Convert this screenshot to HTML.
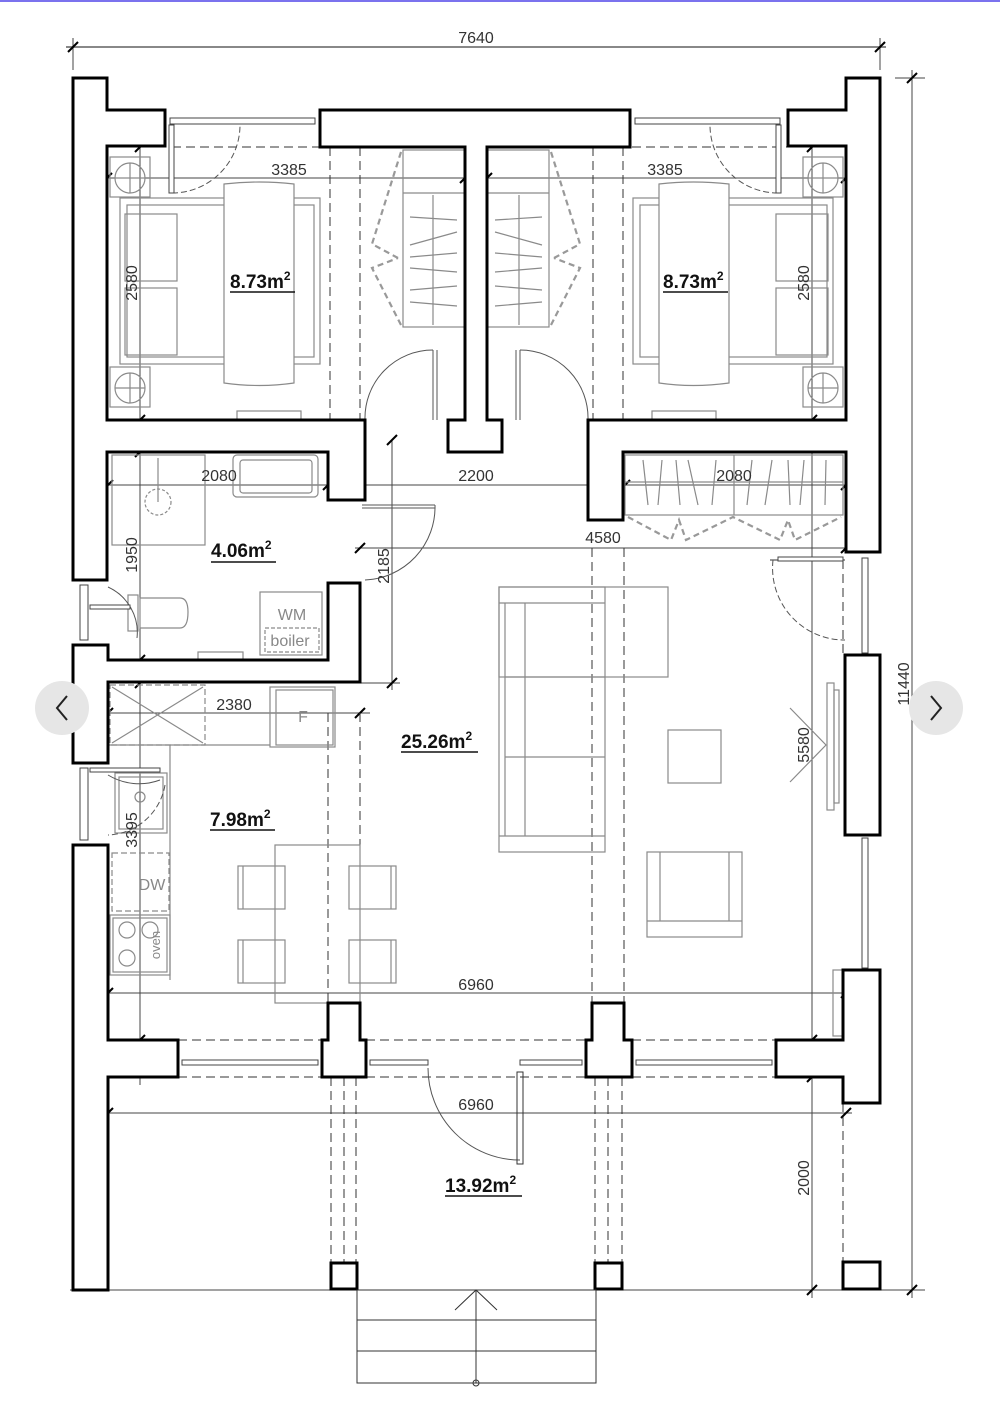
<!DOCTYPE html>
<html><head><meta charset="utf-8">
<style>
html,body{margin:0;padding:0;background:#fff;}
svg{display:block;}
text{font-family:"Liberation Sans",sans-serif;}
</style></head><body>
<svg width="1000" height="1412" viewBox="0 0 1000 1412" xmlns="http://www.w3.org/2000/svg">
<rect x="0" y="0" width="1000" height="1412" fill="#fff"/>
<rect x="0" y="0" width="1000" height="2" fill="#7b72ee"/>

<g stroke="#444" stroke-width="1" fill="none">
<line x1="66" y1="47" x2="886" y2="47" stroke="#888" stroke-width="2"/>
<line x1="73" y1="38" x2="73" y2="70"/><line x1="880" y1="38" x2="880" y2="70"/>
<line x1="912" y1="70" x2="912" y2="1298"/>
<line x1="895" y1="78" x2="925" y2="78"/><line x1="880" y1="1290" x2="925" y2="1290"/>
<line x1="100" y1="178" x2="470" y2="178"/>
<line x1="482" y1="178" x2="852" y2="178"/>
<line x1="140" y1="140" x2="140" y2="1085"/>
<line x1="812" y1="140" x2="812" y2="1298"/>
<line x1="100" y1="485" x2="852" y2="485"/>
<line x1="355" y1="548" x2="852" y2="548"/>
<line x1="392" y1="440" x2="392" y2="690"/>
<line x1="355" y1="683" x2="400" y2="683"/>
<line x1="100" y1="713" x2="370" y2="713"/>
<line x1="100" y1="993" x2="852" y2="993"/>
<line x1="100" y1="1113" x2="852" y2="1113"/>
<line x1="70" y1="1290" x2="880" y2="1290"/>
</g>
<g stroke="#000" stroke-width="2">
<line x1="68" y1="52" x2="78" y2="42"/><line x1="875" y1="52" x2="885" y2="42"/>
<line x1="907" y1="83" x2="917" y2="73"/><line x1="907" y1="1295" x2="917" y2="1285"/>
<line x1="102" y1="183" x2="112" y2="173"/><line x1="460" y1="183" x2="470" y2="173"/>
<line x1="482" y1="183" x2="492" y2="173"/><line x1="841" y1="183" x2="851" y2="173"/>
<line x1="135" y1="152" x2="145" y2="142"/><line x1="135" y1="425" x2="145" y2="415"/>
<line x1="807" y1="152" x2="817" y2="142"/><line x1="807" y1="425" x2="817" y2="415"/>
<line x1="103" y1="490" x2="113" y2="480"/><line x1="323" y1="490" x2="333" y2="480"/>
<line x1="355" y1="490" x2="365" y2="480"/><line x1="588" y1="490" x2="598" y2="480"/>
<line x1="620" y1="490" x2="630" y2="480"/><line x1="841" y1="490" x2="851" y2="480"/>
<line x1="135" y1="457" x2="145" y2="447"/><line x1="135" y1="665" x2="145" y2="655"/>
<line x1="355" y1="553" x2="365" y2="543"/><line x1="841" y1="553" x2="851" y2="543"/>
<line x1="387" y1="445" x2="397" y2="435"/><line x1="387" y1="688" x2="397" y2="678"/>
<line x1="103" y1="718" x2="113" y2="708"/><line x1="355" y1="718" x2="365" y2="708"/>
<line x1="135" y1="688" x2="145" y2="678"/><line x1="135" y1="1045" x2="145" y2="1035"/>
<line x1="103" y1="998" x2="113" y2="988"/><line x1="841" y1="998" x2="851" y2="988"/>
<line x1="103" y1="1118" x2="113" y2="1108"/><line x1="841" y1="1118" x2="851" y2="1108"/>
<line x1="807" y1="1045" x2="817" y2="1035"/><line x1="807" y1="1082" x2="817" y2="1072"/>
<line x1="807" y1="1295" x2="817" y2="1285"/>
</g>

<g stroke="#333" stroke-width="1" stroke-dasharray="9,5" fill="none">
<line x1="330" y1="147" x2="330" y2="420"/><line x1="360" y1="147" x2="360" y2="420"/>
<line x1="593" y1="147" x2="593" y2="420"/><line x1="623" y1="147" x2="623" y2="420"/>
<line x1="172" y1="147" x2="320" y2="147"/><line x1="632" y1="147" x2="788" y2="147"/>
<line x1="328" y1="713" x2="328" y2="1003"/><line x1="360" y1="713" x2="360" y2="1003"/>
<line x1="592" y1="548" x2="592" y2="1003"/><line x1="624" y1="548" x2="624" y2="1003"/>
<line x1="178" y1="1040" x2="322" y2="1040"/><line x1="366" y1="1040" x2="586" y2="1040"/><line x1="632" y1="1040" x2="776" y2="1040"/>
<line x1="178" y1="1077" x2="322" y2="1077"/><line x1="366" y1="1077" x2="586" y2="1077"/><line x1="632" y1="1077" x2="776" y2="1077"/>
<line x1="331" y1="1077" x2="331" y2="1262"/><line x1="344" y1="1077" x2="344" y2="1262"/><line x1="356" y1="1077" x2="356" y2="1262"/>
<line x1="595" y1="1077" x2="595" y2="1262"/><line x1="608" y1="1077" x2="608" y2="1262"/><line x1="622" y1="1077" x2="622" y2="1262"/>
<line x1="843" y1="1103" x2="843" y2="1262"/>
<line x1="770" y1="560" x2="845" y2="560"/>
<line x1="843" y1="560" x2="843" y2="655"/>
</g>

<g stroke="#8a8a8a" stroke-width="1.2" fill="none">
<rect x="110" y="157" width="40" height="40"/><circle cx="130" cy="178" r="15"/><line x1="115" y1="178" x2="145" y2="178"/><line x1="130" y1="163" x2="130" y2="193"/>
<rect x="110" y="367" width="40" height="40"/><circle cx="130" cy="388" r="15"/><line x1="115" y1="388" x2="145" y2="388"/><line x1="130" y1="373" x2="130" y2="403"/>
<rect x="120" y="198" width="200" height="166"/><rect x="127" y="205" width="187" height="152"/>
<rect x="125" y="214" width="52" height="67"/><rect x="125" y="288" width="52" height="67"/>
<path d="M224 184 Q260 180 294 184 L294 383 Q260 388 224 383 Z" fill="#fff"/>
<rect x="237" y="411" width="64" height="9"/>
<rect x="803" y="157" width="40" height="40"/><circle cx="823" cy="178" r="15"/><line x1="808" y1="178" x2="838" y2="178"/><line x1="823" y1="163" x2="823" y2="193"/>
<rect x="803" y="367" width="40" height="40"/><circle cx="823" cy="388" r="15"/><line x1="808" y1="388" x2="838" y2="388"/><line x1="823" y1="373" x2="823" y2="403"/>
<rect x="633" y="198" width="200" height="166"/><rect x="640" y="205" width="187" height="152"/>
<rect x="776" y="214" width="52" height="67"/><rect x="776" y="288" width="52" height="67"/>
<path d="M659 184 Q693 180 729 184 L729 383 Q693 388 659 383 Z" fill="#fff"/>
<rect x="652" y="411" width="64" height="9"/>
<rect x="403" y="150" width="62" height="177"/><line x1="403" y1="193" x2="465" y2="193"/><line x1="433" y1="195" x2="433" y2="325"/>
<path d="M410 217 L457 220 M410 245 L457 232 M410 257 L457 253 M410 268 L457 272 M410 290 L457 286 M410 302 L457 306"/>
<rect x="487" y="150" width="62" height="177"/><line x1="487" y1="193" x2="549" y2="193"/><line x1="519" y1="195" x2="519" y2="325"/>
<path d="M495 220 L542 217 M495 232 L542 245 M495 253 L542 257 M495 272 L542 268 M495 286 L542 290 M495 306 L542 302"/>
<rect x="112" y="455" width="93" height="90"/><circle cx="158" cy="502" r="13" stroke-dasharray="3,2"/><line x1="158" y1="458" x2="158" y2="502"/>
<rect x="233" y="455" width="85" height="42" rx="4"/><rect x="240" y="460" width="72" height="33" rx="3"/>
<path d="M140 598 L180 598 Q188 598 188 612 Q188 628 180 628 L140 628 Z"/>
<rect x="128" y="595" width="10" height="36"/>
<rect x="260" y="592" width="62" height="63"/><rect x="265" y="628" width="54" height="24" stroke-dasharray="4,2"/>
<rect x="198" y="652" width="45" height="8"/>
<rect x="110" y="685" width="95" height="60" stroke-dasharray="6,3"/><path d="M112 687 L203 743 M203 687 L112 743"/>
<line x1="108" y1="745" x2="270" y2="745"/>
<line x1="170" y1="745" x2="170" y2="980"/>
<rect x="270" y="687" width="65" height="60"/><rect x="276" y="690" width="57" height="55"/>
<rect x="115" y="773" width="52" height="60"/><rect x="119" y="777" width="44" height="52"/><circle cx="140" cy="797" r="5"/>
<rect x="112" y="853" width="57" height="58" stroke-dasharray="6,3"/>
<rect x="110" y="915" width="60" height="60"/><rect x="113" y="918" width="54" height="54"/>
<circle cx="127" cy="930" r="8"/><circle cx="127" cy="958" r="8"/><circle cx="150" cy="930" r="8"/>
<rect x="275" y="845" width="85" height="158"/>
<rect x="238" y="866" width="47" height="43"/><line x1="243" y1="866" x2="243" y2="909"/>
<rect x="238" y="940" width="47" height="43"/><line x1="243" y1="940" x2="243" y2="983"/>
<rect x="349" y="866" width="47" height="43"/><line x1="391" y1="866" x2="391" y2="909"/>
<rect x="349" y="940" width="47" height="43"/><line x1="391" y1="940" x2="391" y2="983"/>
<rect x="499" y="587" width="169" height="90"/>
<rect x="499" y="587" width="106" height="265"/>
<line x1="499" y1="603" x2="605" y2="603"/><line x1="505" y1="603" x2="505" y2="836"/><line x1="525" y1="603" x2="525" y2="836"/>
<line x1="505" y1="677" x2="605" y2="677"/><line x1="505" y1="757" x2="605" y2="757"/><line x1="499" y1="836" x2="605" y2="836"/>
<rect x="668" y="730" width="53" height="53"/>
<rect x="647" y="852" width="95" height="85"/><line x1="660" y1="852" x2="660" y2="921"/><line x1="729" y1="852" x2="729" y2="921"/><line x1="647" y1="921" x2="742" y2="921"/>
<rect x="827" y="683" width="7" height="127"/><rect x="834" y="690" width="5" height="113"/>
<path d="M790 708 L826 745 L790 782"/>
<rect x="833" y="970" width="10" height="66"/>
<rect x="625" y="455" width="218" height="60"/><line x1="625" y1="482" x2="843" y2="482"/><line x1="734" y1="455" x2="734" y2="515"/>
<path d="M643 460 L648 505 M662 460 L658 505 M676 460 L680 505 M688 460 L698 505 M716 460 L712 505 M752 460 L747 505 M772 460 L765 505 M788 460 L790 505 M804 460 L800 505 M826 460 L825 505"/>
</g>
<g stroke="#999" stroke-width="2.2" fill="none" stroke-dasharray="6,4">
<path d="M401 152 L372 244 L398 258"/><path d="M401 325 L372 268 L398 258"/>
<path d="M551 152 L580 244 L554 258"/><path d="M551 325 L580 268 L554 258"/>
<path d="M628 517 L671 540 L679 520 L686 540 L733 517 L780 540 L788 520 L795 540 L841 517"/>
</g>

<g stroke="#555" stroke-width="1" fill="none">
<path d="M172 193 A68 68 0 0 0 240 125" stroke-dasharray="6,3"/>
<path d="M778 193 A68 68 0 0 1 710 125" stroke-dasharray="6,3"/>
<path d="M365 420 A68 68 0 0 1 433 350"/>
<path d="M588 420 A68 68 0 0 0 520 350"/>
<line x1="433" y1="350" x2="433" y2="420"/><line x1="437" y1="350" x2="437" y2="420"/>
<line x1="516" y1="350" x2="516" y2="420"/><line x1="520" y1="350" x2="520" y2="420"/>
<path d="M435 505 A73 73 0 0 1 365 580"/>
<line x1="362" y1="505" x2="435" y2="505"/><line x1="362" y1="508" x2="435" y2="508"/>
<path d="M773 560 A72 72 0 0 0 845 640" stroke-dasharray="6,3"/>
<path d="M428 1068 A92 92 0 0 0 520 1160"/>
<rect x="517" y="1072" width="6" height="92" stroke="#333"/>
<path d="M108 587 A50 50 0 0 1 137 638"/>
<path d="M108 775 A60 60 0 0 0 160 780"/>
<path d="M165 785 A60 60 0 0 1 108 835" stroke-dasharray="6,3"/>
</g>
<g stroke="#444" stroke-width="1" fill="#fff">
<rect x="169" y="125" width="5" height="68"/><rect x="776" y="125" width="5" height="68"/>
<rect x="170" y="118" width="145" height="6"/><rect x="635" y="118" width="145" height="6"/>
<rect x="80" y="585" width="8" height="55"/><rect x="90" y="605" width="40" height="4"/>
<rect x="80" y="768" width="8" height="72"/><rect x="90" y="768" width="70" height="4"/>
<rect x="182" y="1060" width="136" height="5"/><rect x="370" y="1060" width="58" height="5"/><rect x="520" y="1060" width="62" height="5"/><rect x="636" y="1060" width="136" height="5"/>
<rect x="862" y="558" width="6" height="95"/><rect x="778" y="557" width="65" height="4"/>
<rect x="862" y="838" width="6" height="130"/>
</g>

<g stroke="#000" stroke-width="3" fill="#fff" stroke-linejoin="miter">
<polygon points="73,78 107,78 107,110 165,110 165,146 107,146 107,420 365,420 365,500 328,500 328,452 107,452 107,580 73,580"/>
<polygon points="880,78 846,78 846,110 788,110 788,146 846,146 846,420 588,420 588,520 623,520 623,452 846,452 846,552 880,552"/>
<polygon points="320,110 630,110 630,147 487,147 487,420 502,420 502,452 448,452 448,420 465,420 465,147 320,147"/>
<polygon points="73,645 108,645 108,660 328,660 328,583 360,583 360,682 108,682 108,763 73,763"/>
<polygon points="73,845 108,845 108,1040 178,1040 178,1077 108,1077 108,1290 73,1290"/>
<polygon points="328,1003 360,1003 360,1040 366,1040 366,1077 322,1077 322,1040 328,1040"/>
<polygon points="592,1003 624,1003 624,1040 632,1040 632,1077 586,1077 586,1040 592,1040"/>
<polygon points="843,970 880,970 880,1103 843,1103 843,1077 776,1077 776,1040 843,1040"/>
<polygon points="845,655 880,655 880,835 845,835"/>
<rect x="331" y="1263" width="26" height="26"/>
<rect x="595" y="1263" width="27" height="26"/>
<rect x="843" y="1262" width="37" height="27"/>
</g>

<g stroke="#333" stroke-width="1" fill="none">
<rect x="357" y="1290" width="239" height="93"/>
<line x1="357" y1="1320" x2="596" y2="1320"/><line x1="357" y1="1351" x2="596" y2="1351"/>
<line x1="476" y1="1383" x2="476" y2="1290"/>
<path d="M455 1310 L476 1290 L497 1310"/>
<circle cx="476" cy="1383" r="3"/>
</g>

<g font-size="16" fill="#333" text-anchor="middle">
<text x="476" y="43">7640</text>
<text x="289" y="175">3385</text>
<text x="665" y="175">3385</text>
<text x="219" y="481">2080</text>
<text x="476" y="481">2200</text>
<text x="734" y="481">2080</text>
<text x="603" y="543">4580</text>
<text x="234" y="710">2380</text>
<text x="476" y="990">6960</text>
<text x="476" y="1110">6960</text>
<text transform="translate(137,283) rotate(-90)">2580</text>
<text transform="translate(809,283) rotate(-90)">2580</text>
<text transform="translate(137,555) rotate(-90)">1950</text>
<text transform="translate(389,566) rotate(-90)">2185</text>
<text transform="translate(137,830) rotate(-90)">3395</text>
<text transform="translate(809,745) rotate(-90)">5580</text>
<text transform="translate(809,1178) rotate(-90)">2000</text>
<text transform="translate(909,684) rotate(-90)">11440</text>
</g>
<g font-size="16" fill="#888" text-anchor="middle">
<text x="292" y="620">WM</text>
<text x="290" y="646">boiler</text>
<text x="303" y="722">F</text>
<text x="152" y="890">DW</text>
<text transform="translate(160,945) rotate(-90)" font-size="13">oven</text>
</g>

<g font-size="19" font-weight="bold" fill="#111">
<text x="230" y="288">8.73m<tspan font-size="12" dy="-8">2</tspan></text>
<line x1="230" y1="292" x2="295" y2="292" stroke="#111" stroke-width="1.5"/>
<text x="663" y="288">8.73m<tspan font-size="12" dy="-8">2</tspan></text>
<line x1="663" y1="292" x2="728" y2="292" stroke="#111" stroke-width="1.5"/>
<text x="211" y="557">4.06m<tspan font-size="12" dy="-8">2</tspan></text>
<line x1="211" y1="562" x2="276" y2="562" stroke="#111" stroke-width="1.5"/>
<text x="401" y="748">25.26m<tspan font-size="12" dy="-8">2</tspan></text>
<line x1="401" y1="752" x2="478" y2="752" stroke="#111" stroke-width="1.5"/>
<text x="210" y="826">7.98m<tspan font-size="12" dy="-8">2</tspan></text>
<line x1="210" y1="830" x2="275" y2="830" stroke="#111" stroke-width="1.5"/>
<text x="445" y="1192">13.92m<tspan font-size="12" dy="-8">2</tspan></text>
<line x1="445" y1="1196" x2="522" y2="1196" stroke="#111" stroke-width="1.5"/>
</g>

<circle cx="62" cy="708" r="27" fill="#e6e6e6"/>
<path d="M67 696 L57 708 L67 720" stroke="#222" stroke-width="2" fill="none"/>
<circle cx="936" cy="708" r="27" fill="#e6e6e6"/>
<path d="M931 696 L941 708 L931 720" stroke="#222" stroke-width="2" fill="none"/>
</svg>
</body></html>
